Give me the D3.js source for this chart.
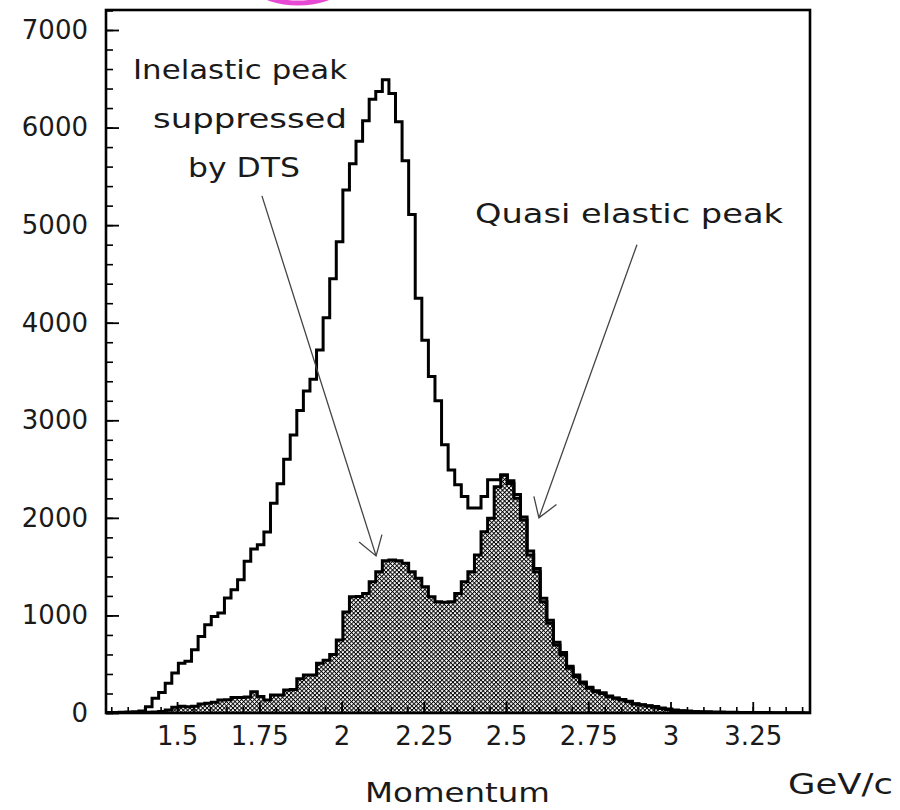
<!DOCTYPE html>
<html>
<head>
<meta charset="utf-8">
<script src="https://cdn.jsdelivr.net/npm/d3@7"></script>
<style>
  html, body { margin: 0; padding: 0; background: #fff; }
  svg { display: block; }
</style>
</head>
<body>
<svg id="chart" width="900" height="810"></svg>
<script>
// Histogram binning (GeV/c)
const binLow = 1.284;
const binWidth = 0.02;

// All events per momentum bin
const totalCounts = [
  5, 5, 8, 10, 12, 20, 65, 150, 210, 305,
  410, 510, 530, 648, 785, 905, 990, 1025, 1178, 1263,
  1366, 1554, 1680, 1725, 1855, 2150, 2350, 2600, 2850, 3100,
  3300, 3420, 3720, 4050, 4450, 4830, 5360, 5630, 5860, 6070,
  6290, 6370, 6490, 6350, 6060, 5660, 5110, 4250, 3820, 3450,
  3200, 2750, 2490, 2340, 2220, 2100, 2100, 2220, 2390, 2390,
  2440, 2380, 2240, 2010, 1660, 1480, 1175, 950, 725, 620,
  480, 390, 318, 265, 228, 208, 175, 155, 138, 120,
  96, 85, 75, 66, 50, 40, 30, 24, 20, 16,
  14, 12, 10, 9, 8, 7, 6, 5, 5, 4,
  4, 3, 3, 2, 2, 2, 1
];

// Events kept after the DTS cut (hatched histogram)
const dtsCounts = [
  0, 0, 2, 3, 4, 5, 8, 10, 15, 30,
  60, 70, 65, 70, 92, 100, 110, 133, 135, 160,
  160, 165, 218, 170, 133, 184, 184, 236, 240, 350,
  389, 389, 509, 540, 600, 748, 1035, 1192, 1195, 1226,
  1345, 1448, 1560, 1567, 1560, 1534, 1448, 1380, 1294, 1192,
  1140, 1135, 1140, 1226, 1345, 1448, 1619, 1858, 1995, 2319,
  2439, 2353, 2200, 1977, 1619, 1448, 1140, 919, 697, 594,
  458, 372, 304, 253, 218, 201, 167, 150, 133, 116,
  92, 82, 72, 60, 45, 35, 25, 20, 15, 12,
  10, 8, 6, 5, 4, 3, 3, 2, 2, 1,
  1, 1, 0, 0, 0, 0, 0
];

const xTickValues = [1.5, 1.75, 2, 2.25, 2.5, 2.75, 3, 3.25];
const xTickLabels = ["1.5", "1.75", "2", "2.25", "2.5", "2.75", "3", "3.25"];
const yTickValues = [0, 1000, 2000, 3000, 4000, 5000, 6000, 7000];
const yTickLabels = ["0", "1000", "2000", "3000", "4000", "5000", "6000", "7000"];

const inelasticText = ["Inelastic peak", "suppressed", "by DTS"];
const quasiText = "Quasi elastic peak";
const xTitle = "Momentum";
const xUnit = "GeV/c";

// ---------------------------------------------------------------
const svg = d3.select("#chart");
const plot = { left: 106, right: 810, top: 10, bottom: 713 };

const binHigh = binLow + binWidth * totalCounts.length;
const x = d3.scaleLinear().domain([binLow, binHigh]).range([plot.left, plot.right]);
const y = d3.scaleLinear().domain([0, 7000]).range([plot.bottom, 30]);

const defs = svg.append("defs");
defs.append("clipPath").attr("id", "plotClip")
  .append("rect")
  .attr("x", plot.left).attr("y", plot.top)
  .attr("width", plot.right - plot.left).attr("height", plot.bottom - plot.top);

// fine diagonal cross-hatch
const cell = 3.05;
const hatch = defs.append("pattern")
  .attr("id", "crossHatch")
  .attr("patternUnits", "userSpaceOnUse")
  .attr("width", cell).attr("height", cell)
  .attr("patternTransform", "rotate(45)");
hatch.append("rect").attr("width", cell).attr("height", cell).attr("fill", "#fff");
hatch.append("rect").attr("width", cell).attr("height", 0.95).attr("fill", "#000");
hatch.append("rect").attr("width", 0.95).attr("height", cell).attr("fill", "#000");

// step outline points for a histogram
function stepPoints(counts) {
  const pts = [];
  counts.forEach((c, i) => {
    const lo = binLow + i * binWidth;
    pts.push([lo, c], [lo + binWidth, c]);
  });
  return pts;
}

const g = svg.append("g").attr("clip-path", "url(#plotClip)");

const area = d3.area()
  .x(d => x(d[0])).y0(y(0)).y1(d => y(d[1]));
const line = d3.line()
  .x(d => x(d[0])).y(d => y(d[1]));

const dtsPts = [[binLow, 0], ...stepPoints(dtsCounts), [binHigh, 0]];
const totPts = [[binLow, 0], ...stepPoints(totalCounts), [binHigh, 0]];

g.append("path")
  .attr("d", area(stepPoints(dtsCounts)))
  .attr("fill", "url(#crossHatch)");

g.append("path")
  .attr("d", line(dtsPts))
  .attr("fill", "none").attr("stroke", "#000")
  .attr("stroke-width", 3).attr("stroke-linejoin", "miter");

g.append("path")
  .attr("d", line(totPts))
  .attr("fill", "none").attr("stroke", "#000")
  .attr("stroke-width", 3).attr("stroke-linejoin", "miter");

// ---------------------------------------------------------------
// axes: inward ticks, major + minor
const fontAxis = "'DejaVu Sans', sans-serif";

const xMinor = d3.range(1.3, 3.42, 0.05).map(v => +v.toFixed(2));
const yMinor = d3.range(0, 7201, 200);

svg.append("g")
  .attr("transform", `translate(0,${plot.bottom})`)
  .call(d3.axisBottom(x).tickValues(xMinor).tickSize(-6).tickFormat(""))
  .call(a => a.select(".domain").remove())
  .call(a => a.selectAll("line").attr("stroke", "#000").attr("stroke-width", 1.6));

svg.append("g")
  .attr("transform", `translate(0,${plot.bottom})`)
  .call(d3.axisBottom(x).tickValues(xTickValues).tickSize(-11).tickPadding(14)
    .tickFormat((d, i) => xTickLabels[i]))
  .call(a => a.select(".domain").remove())
  .call(a => a.selectAll("line").attr("stroke", "#000").attr("stroke-width", 1.8))
  .call(a => a.selectAll("text")
    .attr("font-family", fontAxis).attr("font-size", 26).attr("fill", "#1a1a1a"));

svg.append("g")
  .attr("transform", `translate(${plot.left},0)`)
  .call(d3.axisLeft(y).tickValues(yMinor).tickSize(-7).tickFormat(""))
  .call(a => a.select(".domain").remove())
  .call(a => a.selectAll("line").attr("stroke", "#000").attr("stroke-width", 1.6));

svg.append("g")
  .attr("transform", `translate(${plot.left},0)`)
  .call(d3.axisLeft(y).tickValues(yTickValues).tickSize(-13).tickPadding(18)
    .tickFormat((d, i) => yTickLabels[i]))
  .call(a => a.select(".domain").remove())
  .call(a => a.selectAll("line").attr("stroke", "#000").attr("stroke-width", 1.8))
  .call(a => a.selectAll("text")
    .attr("font-family", fontAxis).attr("font-size", 26).attr("fill", "#1a1a1a"));

// frame
svg.append("rect")
  .attr("x", plot.left).attr("y", plot.top)
  .attr("width", plot.right - plot.left).attr("height", plot.bottom - plot.top)
  .attr("fill", "none").attr("stroke", "#000").attr("stroke-width", 2.6);

// ---------------------------------------------------------------
// titles
svg.append("text")
  .attr("x", 365).attr("y", 802)
  .attr("font-family", fontAxis).attr("font-size", 27).attr("fill", "#1a1a1a")
  .attr("textLength", 185).attr("lengthAdjust", "spacingAndGlyphs")
  .text(xTitle);

svg.append("text")
  .attr("x", 788).attr("y", 794)
  .attr("font-family", fontAxis).attr("font-size", 29).attr("fill", "#1a1a1a")
  .attr("textLength", 105).attr("lengthAdjust", "spacingAndGlyphs")
  .text(xUnit);

// annotations
const noteFont = { family: "'DejaVu Sans', sans-serif", size: 27 };
const inelasticLayout = [
  { x: 133, y: 79, len: 214 },
  { x: 153, y: 128, len: 194 },
  { x: 188, y: 177, len: 112 }
];
inelasticText.forEach((t, i) => {
  svg.append("text")
    .attr("x", inelasticLayout[i].x).attr("y", inelasticLayout[i].y)
    .attr("font-family", noteFont.family).attr("font-size", noteFont.size)
    .attr("fill", "#1a1a1a")
    .attr("textLength", inelasticLayout[i].len).attr("lengthAdjust", "spacingAndGlyphs")
    .text(t);
});

svg.append("text")
  .attr("x", 475).attr("y", 223)
  .attr("font-family", noteFont.family).attr("font-size", noteFont.size)
  .attr("fill", "#1a1a1a")
  .attr("textLength", 308).attr("lengthAdjust", "spacingAndGlyphs")
  .text(quasiText);

// pointer arrows, given in data coordinates
function arrow(from, to) {
  const x0 = x(from[0]), y0 = y(from[1]);
  const x1 = x(to[0]), y1 = y(to[1]);
  const back = Math.atan2(y0 - y1, x0 - x1);
  const spread = 33 * Math.PI / 180, len = 22;
  const a1 = [x1 + len * Math.cos(back - spread), y1 + len * Math.sin(back - spread)];
  const a2 = [x1 + len * Math.cos(back + spread), y1 + len * Math.sin(back + spread)];
  svg.append("path")
    .attr("d", `M${x0},${y0}L${x1},${y1}M${a1[0]},${a1[1]}L${x1},${y1}L${a2[0]},${a2[1]}`)
    .attr("fill", "none").attr("stroke", "#444").attr("stroke-width", 1.3);
}
arrow([1.758, 5300], [2.105, 1610]);
arrow([2.898, 4800], [2.600, 2000]);

// magenta mark at the top edge
svg.append("ellipse")
  .attr("cx", 298).attr("cy", -9).attr("rx", 36).attr("ry", 12)
  .attr("fill", "none").attr("stroke", "#e64ad4").attr("stroke-width", 5);
</script>
</body>
</html>
